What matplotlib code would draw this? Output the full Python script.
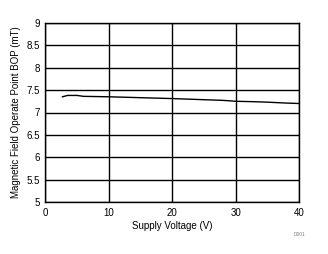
import matplotlib
matplotlib.use('Agg')
import matplotlib.pyplot as plt

plt.rcParams['font.family'] = ['Liberation Sans', 'DejaVu Sans']

# data
voltage = [2.7, 3.5, 5.0, 6.0, 10.0, 15.0, 20.0, 24.0, 28.0, 30.0, 33.0, 35.0, 38.0, 40.0]
bop = [7.35, 7.38, 7.38, 7.36, 7.35, 7.33, 7.31, 7.29, 7.27, 7.25, 7.24, 7.23, 7.21, 7.20]

xticks = [0, 10, 20, 30, 40]
yticks = [5, 5.5, 6, 6.5, 7, 7.5, 8, 8.5, 9]
ytick_labels = ['5', '5.5', '6', '6.5', '7', '7.5', '8', '8.5', '9']

fig = plt.figure(figsize=(3.28, 2.54), dpi=100)
ax = fig.add_axes([45.3 / 328, 1 - 202.3 / 254, (299.3 - 45.3) / 328, (202.3 - 22.7) / 254])

ax.plot(voltage, bop, color='black', lw=1.0)

ax.set_xlim(0, 40)
ax.set_ylim(5, 9)
ax.set_xticks(xticks)
ax.set_yticks(yticks)
ax.set_yticklabels(ytick_labels)
ax.grid(True, color='black', lw=1.0)
ax.tick_params(length=0, labelsize=7, pad=4)
for s in ax.spines.values():
    s.set_linewidth(1.0)

ax.set_xlabel('Supply Voltage (V)', fontsize=7, labelpad=2)
ax.set_ylabel('Magnetic Field Operate Point BOP (mT)', fontsize=7, labelpad=4)

fig.text(299 / 328, 1 - 234 / 254, 'D001', fontsize=3.5, color='gray', ha='center', va='center')

fig.savefig('out.png', dpi=100)
